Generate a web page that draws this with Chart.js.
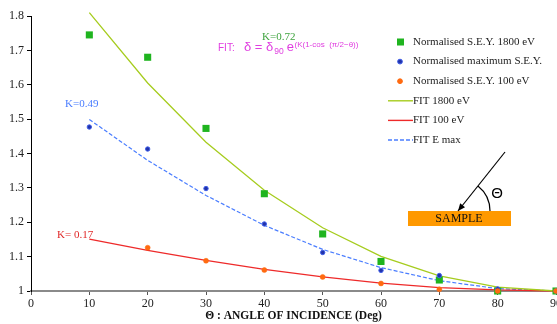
<!DOCTYPE html>
<html>
<head>
<meta charset="utf-8">
<script src="https://cdn.jsdelivr.net/npm/chart.js@4/dist/chart.umd.min.js"></script>
<style>
  html, body { margin: 0; padding: 0; background: #fff; overflow: hidden; }
  #wrap { width: 570px; height: 324px; }
</style>
</head>
<body>
<div id="wrap"><canvas id="myChart" width="570" height="324"></canvas></div>
<script>
'use strict';

// angles of incidence (deg)
const angles = [10, 20, 30, 40, 50, 60, 70, 80, 90];
// measured (normalised) SEY
const sey1800 = [1.745, 1.68, 1.473, 1.283, 1.166, 1.086, 1.032, 1.0, 1.0];
const seyMax  = [1.477, 1.413, 1.298, 1.195, 1.112, 1.06, 1.045, 1.006, 1.0];
const sey100  = [null, 1.126, 1.088, 1.061, 1.041, 1.022, 1.005, 1.0, 1.0];
// fits
const fit1800 = [1.81, 1.605, 1.433, 1.293, 1.184, 1.101, 1.044, 1.011, 1.0];
const fit100  = [1.151, 1.118, 1.089, 1.063, 1.041, 1.023, 1.01, 1.003, 1.0];
const fitEmax = [1.499, 1.38, 1.278, 1.191, 1.121, 1.068, 1.03, 1.007, 1.0];

const xTicks = [0, 10, 20, 30, 40, 50, 60, 70, 80, 90];
const yTicks = [1, 1.1, 1.2, 1.3, 1.4, 1.5, 1.6, 1.7, 1.8];

const xy = arr => angles.map((a, i) => ({x: a, y: arr[i]}));

const SERIF = '"Liberation Serif", "Times New Roman", serif';
const SANS = '"Liberation Sans", Arial, sans-serif';

const legendItems = [
  {label: 'Normalised S.E.Y. 1800 eV', type: 'square', color: '#1fb41f'},
  {label: 'Normalised maximum S.E.Y.', type: 'dot', color: '#2233aa', edge: '#3f5ee8'},
  {label: 'Normalised S.E.Y. 100 eV', type: 'dot', color: '#ff6a10', edge: '#ff6a10'},
  {label: 'FIT 1800 eV', type: 'line', color: '#a6cc1e'},
  {label: 'FIT 100 eV', type: 'line', color: '#ee2a2a'},
  {label: 'FIT E max', type: 'dash', color: '#4a7dff'},
];

// extra drawing: legend, formula, K labels, sample sketch, axis title
const extras = {
  id: 'extras',
  afterDraw(chart) {
    const ctx = chart.ctx;
    const area = chart.chartArea;
    ctx.save();

    // axis title
    ctx.fillStyle = '#111';
    ctx.font = 'bold 11.5px ' + SERIF;
    ctx.textAlign = 'center';
    ctx.textBaseline = 'middle';
    ctx.fillText('\u0398 : ANGLE OF INCIDENCE (Deg)', (area.left + 556) / 2, 316);

    // legend
    ctx.textAlign = 'left';
    ctx.font = '11px ' + SERIF;
    legendItems.forEach((it, i) => {
      const y = 42 + i * 19.6;
      if (it.type === 'square') {
        ctx.fillStyle = it.color;
        ctx.fillRect(397, y - 3.5, 7, 7);
      } else if (it.type === 'dot') {
        ctx.beginPath();
        ctx.arc(400, y, 2.4, 0, Math.PI * 2);
        ctx.fillStyle = it.color;
        ctx.fill();
        ctx.lineWidth = 1;
        ctx.strokeStyle = it.edge;
        ctx.stroke();
      } else {
        ctx.beginPath();
        ctx.strokeStyle = it.color;
        ctx.lineWidth = 1.4;
        if (it.type === 'dash') ctx.setLineDash([4, 2]);
        ctx.moveTo(388, y);
        ctx.lineTo(413, y);
        ctx.stroke();
        ctx.setLineDash([]);
      }
      ctx.fillStyle = '#222';
      ctx.fillText(it.label, 413, y);
    });

    // formula
    ctx.fillStyle = '#e03ee0';
    ctx.textBaseline = 'alphabetic';
    ctx.font = '10px ' + SANS;
    ctx.fillText('FIT:', 218, 51);
    ctx.font = '13px ' + SANS;
    let x = 244;
    ctx.fillText('\u03b4 = \u03b4', x, 51);
    x += ctx.measureText('\u03b4 = \u03b4').width + 1;
    ctx.font = '8.5px ' + SANS;
    ctx.fillText('90', x, 54);
    x += ctx.measureText('90').width + 3;
    ctx.font = '13px ' + SANS;
    ctx.fillText('e', x, 51);
    x += ctx.measureText('e').width + 0.5;
    ctx.font = '8px ' + SANS;
    ctx.fillText('(K(1-cos  (\u03c0/2\u2212\u03b8))', x, 47);

    // K labels
    ctx.font = '11px ' + SERIF;
    ctx.textBaseline = 'middle';
    ctx.fillStyle = '#3ea33e';
    ctx.fillText('K=0.72', 262, 37);
    ctx.fillStyle = '#4a7dff';
    ctx.fillText('K=0.49', 65, 104);
    ctx.fillStyle = '#e02828';
    ctx.fillText('K= 0.17', 57, 235);

    // sample sketch
    ctx.fillStyle = '#ff9900';
    ctx.fillRect(408, 211, 103, 15);
    ctx.fillStyle = '#111';
    ctx.font = '12px ' + SERIF;
    ctx.textAlign = 'center';
    ctx.fillText('SAMPLE', 459, 218.5);
    // arrow
    const tx = 458, ty = 211, sx = 505, sy = 152;
    ctx.strokeStyle = '#000';
    ctx.lineWidth = 1.2;
    ctx.beginPath();
    ctx.moveTo(sx, sy);
    ctx.lineTo(tx, ty);
    ctx.stroke();
    const ang = Math.atan2(ty - sy, tx - sx);
    ctx.beginPath();
    ctx.moveTo(tx, ty);
    ctx.lineTo(tx - 8 * Math.cos(ang - 0.4), ty - 8 * Math.sin(ang - 0.4));
    ctx.lineTo(tx - 8 * Math.cos(ang + 0.4), ty - 8 * Math.sin(ang + 0.4));
    ctx.closePath();
    ctx.fillStyle = '#000';
    ctx.fill();
    // angle arc
    ctx.beginPath();
    ctx.arc(tx, ty, 32, ang + Math.PI, Math.PI * 2, false);
    ctx.stroke();
    ctx.font = '15px ' + SANS;
    ctx.fillText('\u0398', 497, 194);

    ctx.restore();
  }
};

const data = {
  datasets: [
    {
      label: 'Normalised S.E.Y. 1800 eV',
      data: xy(sey1800),
      order: 2,
      showLine: false,
      pointStyle: 'rect',
      pointRadius: 5,
      pointBackgroundColor: '#1fb41f',
      pointBorderWidth: 0,
      borderColor: '#1fb41f',
      clip: false,
    },
    {
      label: 'Normalised maximum S.E.Y.',
      data: xy(seyMax),
      order: 1,
      showLine: false,
      pointRadius: 2.2,
      pointBackgroundColor: '#2233aa',
      pointBorderColor: '#3f5ee8',
      pointBorderWidth: 1,
      clip: false,
    },
    {
      label: 'Normalised S.E.Y. 100 eV',
      data: xy(sey100),
      order: 0,
      showLine: false,
      pointRadius: 2.5,
      pointBackgroundColor: '#ff6a10',
      pointBorderColor: '#ff6a10',
      pointBorderWidth: 0.5,
      clip: false,
    },
    {
      label: 'FIT 1800 eV',
      data: xy(fit1800),
      order: 3,
      borderColor: '#a6cc1e',
      borderWidth: 1.3,
      pointRadius: 0,
      tension: 0,
      clip: false,
    },
    {
      label: 'FIT 100 eV',
      data: xy(fit100),
      order: 4,
      borderColor: '#ee2a2a',
      borderWidth: 1.3,
      pointRadius: 0,
      tension: 0,
      clip: false,
    },
    {
      label: 'FIT E max',
      data: xy(fitEmax),
      order: 5,
      borderColor: '#4a7dff',
      borderWidth: 1.2,
      borderDash: [4, 2],
      pointRadius: 0,
      tension: 0,
      clip: false,
    },
  ]
};

const options = {
  responsive: false,
  animation: false,
  layout: {padding: {left: 0, right: 14, top: 16, bottom: 0}},
  plugins: {
    legend: {display: false},
    tooltip: {enabled: false},
  },
  scales: {
    x: {
      type: 'linear',
      min: 0,
      max: 90,
      afterBuildTicks: s => { s.ticks = xTicks.map(v => ({value: v})); },
      afterFit: s => { s.height = 33; },
      ticks: {
        color: '#222',
        font: {family: SERIF, size: 12},
        padding: 2,
        maxRotation: 0,
        callback: v => String(v),
      },
      grid: {
        drawOnChartArea: false,
        drawTicks: true,
        tickLength: 4,
        color: '#555',
      },
      border: {display: true, color: '#8a8a8a', width: 2},
    },
    y: {
      type: 'linear',
      min: 1,
      max: 1.8,
      afterBuildTicks: s => { s.ticks = yTicks.map(v => ({value: v})); },
      afterFit: s => { s.width = 31; },
      ticks: {
        color: '#222',
        font: {family: SERIF, size: 12},
        padding: 3,
        callback: v => String(Math.round(v * 10) / 10),
      },
      grid: {
        drawOnChartArea: false,
        drawTicks: true,
        tickLength: 4,
        color: '#000',
      },
      border: {display: true, color: '#000', width: 1},
    },
  },
};

new Chart(document.getElementById('myChart').getContext('2d'), {
  type: 'line',
  data: data,
  options: options,
  plugins: [extras],
});
</script>
</body>
</html>
